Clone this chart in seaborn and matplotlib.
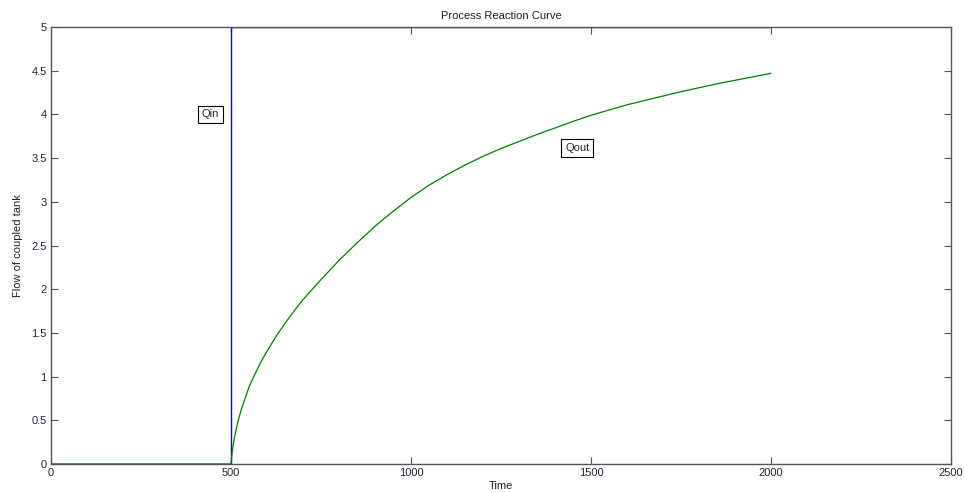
import matplotlib
matplotlib.use("Agg")
import matplotlib.pyplot as plt
import seaborn as sns
import pandas as pd

# Data
qin_time = [0, 500, 500, 2000]
qin_flow = [0, 0, 5, 5]

qout_time = [0, 500, 502, 505, 510, 515, 522, 530, 540, 550, 562, 575, 587,
             600, 625, 650, 675, 700, 750, 800, 850, 900, 950, 1000, 1050,
             1100, 1150, 1200, 1250, 1300, 1350, 1400, 1450, 1500, 1550,
             1600, 1650, 1700, 1750, 1800, 1850, 1900, 1950, 2000]
qout_flow = [0, 0, 0.09, 0.19, 0.31, 0.41, 0.53, 0.64, 0.76, 0.88, 0.99, 1.10,
             1.20, 1.29, 1.46, 1.61, 1.75, 1.88, 2.11, 2.33, 2.53, 2.72, 2.89,
             3.05, 3.19, 3.31, 3.42, 3.52, 3.61, 3.69, 3.77, 3.845, 3.92, 3.99,
             4.05, 4.11, 4.16, 4.21, 4.26, 4.305, 4.35, 4.39, 4.43, 4.47]

x_ticks = [0, 500, 1000, 1500, 2000, 2500]
y_ticks = [0, 0.5, 1, 1.5, 2, 2.5, 3, 3.5, 4, 4.5, 5]

title = "Process Reaction Curve"
xlabel = "Time"
ylabel = "Flow of coupled tank"

sns.set_style("ticks")
plt.rcParams['font.family'] = ['Liberation Sans', 'DejaVu Sans']

fig = plt.figure(figsize=(9.64, 4.92), dpi=100)
ax = fig.add_axes([51/964, 28/492, 900/964, 437/492])

df_in = pd.DataFrame({"t": qin_time, "q": qin_flow})
df_out = pd.DataFrame({"t": qout_time, "q": qout_flow})

sns.lineplot(data=df_in, x="t", y="q", ax=ax, color="#0000ff", linewidth=1.0,
             sort=False, estimator=None)
sns.lineplot(data=df_out, x="t", y="q", ax=ax, color="#008000", linewidth=0.9,
             sort=False, estimator=None)

ax.set_xlim(0, 2500)
ax.set_ylim(0, 5)
ax.set_xticks(x_ticks)
ax.set_xticklabels([str(v) for v in x_ticks])
ax.set_yticks(y_ticks)
ax.set_yticklabels([f"{v:g}" for v in y_ticks])

for s in ax.spines.values():
    s.set_visible(True)
    s.set_color("#555555")
    s.set_linewidth(1.0)
ax.tick_params(direction="in", top=True, right=True, length=5, width=0.8,
               colors="#555555", labelcolor="#222244", labelsize=8, pad=3)

ax.set_title(title, fontsize=8, pad=6, color="#222222")
ax.set_xlabel(xlabel, fontsize=8, labelpad=2, color="#222222")
ax.set_ylabel(ylabel, fontsize=8, labelpad=6, color="#222222")

bbox = dict(boxstyle="square,pad=0.35", facecolor="white", edgecolor="black", linewidth=0.8)
ax.text(442, 4.0, "Qin", fontsize=8, ha="center", va="center", bbox=bbox)
ax.text(1462, 3.62, "Qout", fontsize=8, ha="center", va="center", bbox=bbox)

fig.savefig("out.png", dpi=100)
